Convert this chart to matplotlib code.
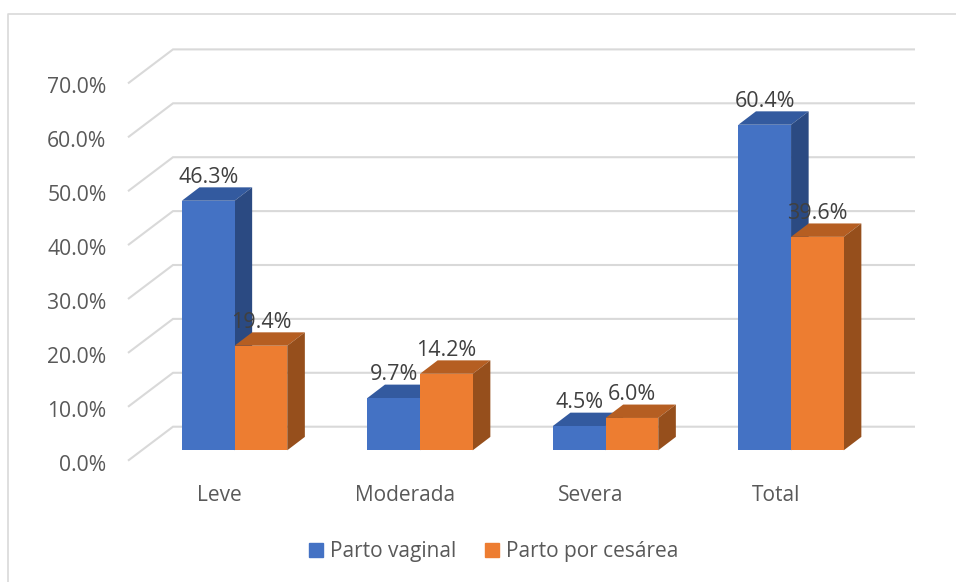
import numpy as np
import matplotlib
matplotlib.use('Agg')
import matplotlib.pyplot as plt
from matplotlib.patches import Patch, Polygon
from matplotlib.lines import Line2D
from matplotlib.transforms import ScaledTranslation

plt.rcParams['font.family'] = ['Open Sans', 'DejaVu Sans']

categories = ['Leve', 'Moderada', 'Severa', 'Total']
vaginal = [46.3, 9.7, 4.5, 60.4]
cesarea = [19.4, 14.2, 6.0, 39.6]
yticks = [0, 10, 20, 30, 40, 50, 60, 70]

W, H = 956, 582
fig = plt.figure(figsize=(W / 100, H / 100), dpi=100)
fig.patch.set_facecolor('white')

# front plane of the fake 3d box, in pixels
left, right, y0, y70 = 128, 870, 460.7, 83.4
ax = fig.add_axes([left / W, 1 - y0 / H, (right - left) / W, (y0 - y70) / H])
ax.set_xlim(0, 4)
ax.set_ylim(0, 70)
ax.patch.set_alpha(0)
for s in ax.spines.values():
    s.set_visible(False)

px = 4 / (right - left)
py = 70 / (y0 - y70)

# gridlines: slanted bit on the side wall + back wall
for v in yticks:
    ax.plot([0, 45 * px, 4 + 45 * px], [v, v + 34 * py, v + 34 * py],
            color='#d9d9d9', lw=1.5, clip_on=False, zorder=1,
            solid_joinstyle='miter', solid_capstyle='butt')

# bars sit part way into the box
bar_w = 52.7 * px
off_x, off_y = 13.8 * px, 10.4 * py
dx, dy = 17.6 * px, 13.4 * py


def draw_bars(values, xpos, front, top, side, z):
    ax.bar(xpos, values, width=bar_w, bottom=off_y, color=front, zorder=z + 1, clip_on=False)
    for x, v in zip(xpos, values):
        l, r = x - bar_w / 2, x + bar_w / 2
        t = v + off_y
        ax.add_patch(Polygon([(l, t), (r, t), (r + dx, t + dy), (l + dx, t + dy)],
                             facecolor=top, edgecolor='none', zorder=z, clip_on=False))
        ax.add_patch(Polygon([(r, off_y), (r + dx, off_y + dy), (r + dx, t + dy), (r, t)],
                             facecolor=side, edgecolor='none', zorder=z, clip_on=False))
        ax.annotate(f'{v:.1f}%', (x, t), xytext=(0, 17), textcoords='offset points',
                    ha='center', va='center', fontsize=15.5, color='#404040', zorder=20)


centers = np.arange(len(categories)) + 0.5
draw_bars(vaginal, centers + off_x - bar_w / 2, '#4472c4', '#335a9f', '#2b4a82', 3)
draw_bars(cesarea, centers + off_x + bar_w / 2, '#ed7d31', '#b55e22', '#964f1c', 6)

ax.set_xticks(centers)
ax.set_xticklabels(categories)
ax.set_yticks(yticks)
ax.set_yticklabels([f'{v:.1f}%' for v in yticks])
ax.tick_params(axis='x', length=0, pad=17.5, labelsize=15, labelcolor='#595959')
ax.tick_params(axis='y', length=0, pad=15.5, labelsize=15.2, labelcolor='#595959')

# tick labels sit a little below the gridline ends
shift = ScaledTranslation(0, -2 / 100, fig.dpi_scale_trans)
for lab in ax.get_yticklabels():
    lab.set_transform(lab.get_transform() + shift)
shift_x = ScaledTranslation(-1 / 100, 0, fig.dpi_scale_trans)
for lab in ax.get_xticklabels():
    lab.set_transform(lab.get_transform() + shift_x)

# chart frame, cropped at right and bottom
fig.add_artist(Line2D([8 / W, 8 / W, 1], [0, 1 - 13.5 / H, 1 - 13.5 / H],
                      color='#d9d9d9', lw=1.2))

handles = [Patch(color='#4472c4', label='Parto vaginal'),
           Patch(color='#ed7d31', label='Parto por cesárea')]
fig.legend(handles=handles, ncol=2, frameon=False, loc='center',
           bbox_to_anchor=(493.5 / W, 1 - 552 / H), fontsize=15, labelcolor='#595959',
           handlelength=0.67, handleheight=0.67, handletextpad=0.33, columnspacing=1.4)

fig.savefig('out.png', dpi=100)
